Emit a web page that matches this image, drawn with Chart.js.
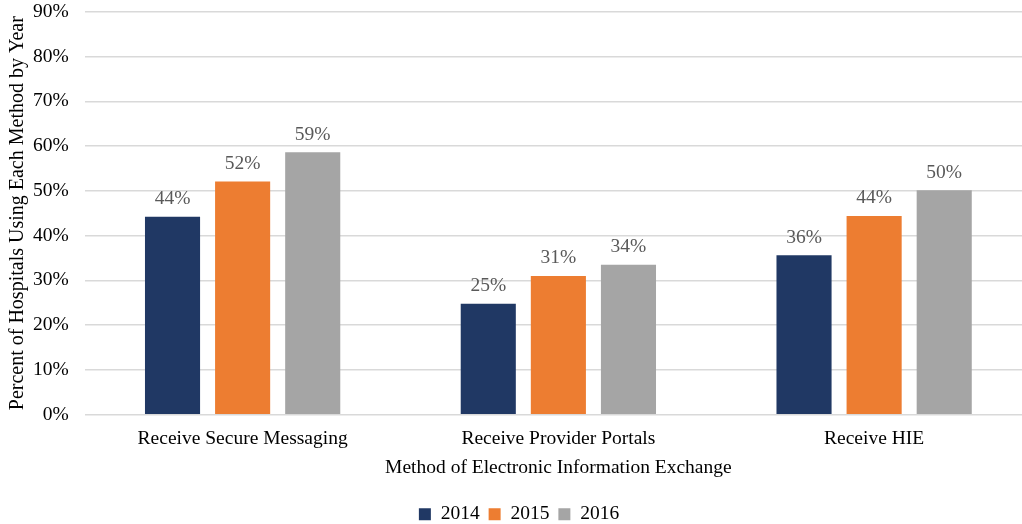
<!DOCTYPE html>
<html>
<head>
<meta charset="utf-8">
<script src="https://cdn.jsdelivr.net/npm/chart.js@4/dist/chart.umd.min.js"></script>
<style>
  html, body { margin: 0; padding: 0; background: #fff; overflow: hidden; }
  #wrap { width: 1034px; height: 534px; }
</style>
</head>
<body>
<div id="wrap"><canvas id="chart"></canvas></div>
<script>
const categories = ['Receive Secure Messaging', 'Receive Provider Portals', 'Receive HIE'];
const years = ['2014', '2015', '2016'];
const values2014 = [44.2, 24.8, 35.6];
const values2015 = [52.1, 31.0, 44.4];
const values2016 = [58.6, 33.5, 50.1];
const colors = ['#203864', '#ED7D31', '#A5A5A5'];

const serif = '"Liberation Serif", "Times New Roman", serif';

// draws the rounded percentage above each bar
const barLabels = {
    id: 'barLabels',
    afterDatasetsDraw(chart) {
        const ctx = chart.ctx;
        ctx.save();
        ctx.font = '19.5px ' + serif;
        ctx.fillStyle = '#595959';
        ctx.textAlign = 'center';
        ctx.textBaseline = 'bottom';
        chart.data.datasets.forEach((ds, i) => {
            chart.getDatasetMeta(i).data.forEach((bar, j) => {
                ctx.fillText(Math.round(ds.data[j]) + '%', bar.x, bar.y - 8);
            });
        });
        ctx.restore();
    }
};

new Chart(document.getElementById('chart'), {
    type: 'bar',
    data: {
        labels: categories,
        datasets: [
            { label: years[0], data: values2014, backgroundColor: colors[0] },
            { label: years[1], data: values2015, backgroundColor: colors[1] },
            { label: years[2], data: values2016, backgroundColor: colors[2] }
        ]
    },
    options: {
        responsive: true,
        maintainAspectRatio: false,
        animation: false,
        categoryPercentage: 0.666,
        barPercentage: 0.786,
        layout: { padding: { top: 0, right: 2, left: 6, bottom: 0 } },
        plugins: {
            legend: {
                position: 'bottom',
                labels: {
                    color: '#000',
                    font: { family: serif, size: 19.5 },
                    boxWidth: 12,
                    boxHeight: 12,
                    padding: 9
                }
            },
            tooltip: { enabled: false }
        },
        scales: {
            x: {
                grid: { display: false, drawTicks: false },
                border: { display: false },
                ticks: { color: '#000', font: { family: serif, size: 19.5 }, padding: 12 },
                title: {
                    display: true,
                    text: 'Method of Electronic Information Exchange',
                    color: '#000',
                    font: { family: serif, size: 19.5 },
                    padding: { top: -6, bottom: 16 }
                }
            },
            y: {
                min: 0,
                max: 90,
                ticks: {
                    stepSize: 10,
                    color: '#000',
                    font: { family: serif, size: 19.5 },
                    padding: 0,
                    callback: v => v + '%'
                },
                grid: { color: '#d9d9d9', lineWidth: 1.5, drawTicks: true, tickLength: 16, tickColor: 'rgba(0,0,0,0)' },
                border: { display: false },
                title: {
                    display: true,
                    text: 'Percent of Hospitals Using Each Method by Year',
                    color: '#000',
                    font: { family: serif, size: 20 },
                    padding: { top: 0, bottom: 3 }
                }
            }
        }
    },
    plugins: [barLabels]
});
</script>
</body>
</html>
